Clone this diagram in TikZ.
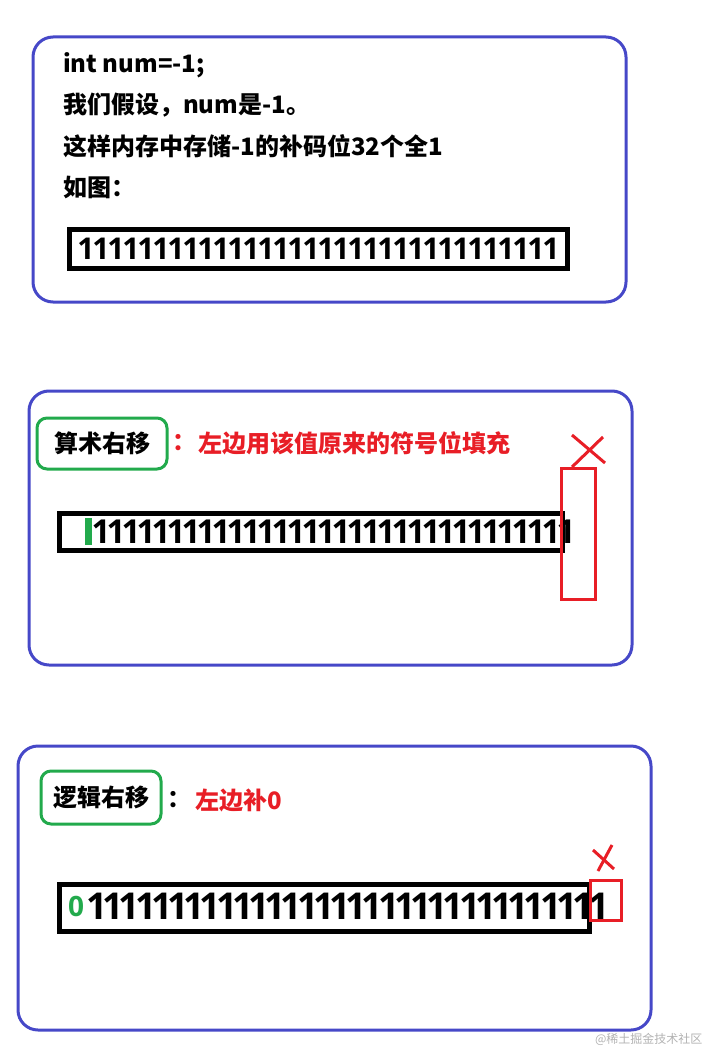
\documentclass[tikz,border=0pt]{standalone}
\usepackage{fontspec}
\setmainfont{Noto Sans CJK SC}
\newfontfamily\bitfont{Open Sans}
\usetikzlibrary{positioning}

\definecolor{panelblue}{RGB}{70,72,200}
\definecolor{taggreen}{RGB}{34,170,76}
\definecolor{markred}{RGB}{232,30,38}

\begin{document}
\begin{tikzpicture}[x=1pt,y=-1pt,
    panel/.style={draw=panelblue,line width=3pt,rounded corners=20pt},
    tag/.style={draw=taggreen,line width=3pt,rounded corners=10pt,inner sep=0pt,
        font=\fontsize{24}{28}\selectfont\bfseries},
    bitbox/.style={draw=black,line width=5pt},
    cut/.style={draw=markred,line width=3pt},
    txt/.style={anchor=west,inner sep=0pt,font=\fontsize{24}{28}\selectfont\bfseries},
    bit/.style={inner sep=0pt,font=\bitfont\bfseries}]

\useasboundingbox (0,0) rectangle (709,1051);

% First panel
\draw[panel] (33,37) rectangle (626,302);
\node[txt] (l1) at (63,65) {int num=-1;};
\node[txt] (l2) at (63,105) {我们假设，num是-1。};
\node[txt] (l3) at (63,146) {这样内存中存储-1的补码位32个全1};
\node[txt] (l4) at (63,187) {如图：};
\draw[bitbox] (69,229) rectangle (567,268);
\foreach \i in {0,...,31}
    \node[bit,font=\bitfont\bfseries\fontsize{30}{32}\selectfont] (topbit\i) at ({86+15*\i},249) {1};

% Arithmetic shift
\draw[panel] (29,391) rectangle (632,665);
\node[tag,minimum width=130pt,minimum height=51pt] (arith) at (102,443.5) {算术右移};
\node[txt,text=markred] (arcolon) at (172,443) {：};
\node[txt,text=markred] (arnote) at (198,443) {左边用该值原来的符号位填充};
\draw[bitbox] (59,513) rectangle (562,550);
\fill[taggreen] (85,518) rectangle (92,545);
\foreach \i in {0,...,31}
    \node[bit,font=\bitfont\bfseries\fontsize{33}{35}\selectfont] (arbit\i) at ({101+15*\i},532) {1};
\draw[cut] (561,468) rectangle (595,599);
\draw[cut] (572,435) -- (605,463);
\draw[cut] (603,437) -- (572,467);

% Logical shift
\draw[panel] (18,746) rectangle (651,1030);
\node[tag,minimum width=120pt,minimum height=53pt] (logic) at (101,797.5) {逻辑右移};
\node[txt] (lgcolon) at (167,800) {：};
\node[txt,text=markred] (lgnote) at (195,800) {左边补0};
\draw[bitbox] (59,884) rectangle (589,931);
\node[bit,text=taggreen,font=\bitfont\bfseries\fontsize{28}{30}\selectfont] (lgzero) at (76,906) {0};
\foreach \i in {0,...,31}
    \node[bit,font=\bitfont\bfseries\fontsize{37}{39}\selectfont] (lgbit\i) at ({97+16.2*\i},906) {1};
\draw[cut] (590,880) rectangle (621,920);
\draw[cut] (593,850) -- (614,869);
\draw[cut] (612,845) -- (598,871);

% Watermark
\node[anchor=east,text=black!30,font=\fontsize{12}{14}\selectfont] (mark) at (706,1039) {@稀土掘金技术社区};

\end{tikzpicture}
\end{document}
